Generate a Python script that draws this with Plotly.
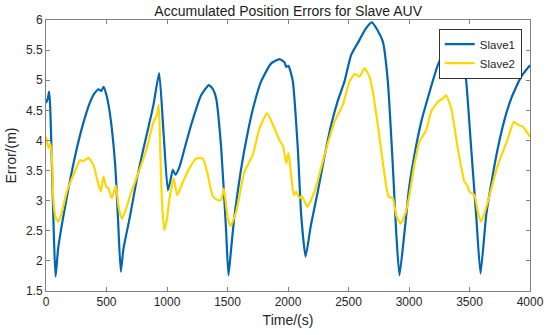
import plotly.graph_objects as go

# ---- data ----
t_slave1 = [0, 15, 26, 35, 79, 100, 145, 200, 255, 310, 365, 400, 434, 456, 475, 500, 530, 572, 595, 618,
            640, 696, 750, 806, 850, 888, 935, 971, 1007, 1030, 1048, 1070, 1103, 1150, 1200, 1282, 1346, 1380,
            1406, 1448, 1489, 1508, 1530, 1558, 1610, 1668, 1720, 1778, 1861, 1930, 1970, 1985, 2004, 2020, 2040,
            2081, 2109, 2145, 2190, 2246, 2300, 2357, 2410, 2467, 2522, 2591, 2640, 2693, 2740, 2784, 2825, 2866,
            2894, 2921, 2963, 3000, 3045, 3100, 3155, 3238, 3300, 3360, 3420, 3445, 3473, 3514, 3555, 3591, 3638,
            3690, 3734, 3790, 3845, 3927, 4000]
slave1 = [4.62, 4.70, 4.81, 4.55, 1.74, 2.20, 2.76, 3.35, 3.87, 4.30, 4.64, 4.78, 4.85, 4.82, 4.89, 4.75, 4.42, 3.59, 2.70, 1.82,
          2.20, 2.76, 3.35, 3.87, 4.25, 4.59, 5.12, 4.14, 3.17, 3.35, 3.51, 3.43, 3.56, 3.90, 4.26, 4.75, 4.92, 4.85,
          4.70, 3.87, 2.48, 1.76, 2.20, 2.76, 3.50, 4.14, 4.60, 4.98, 5.28, 5.35, 5.30, 5.22, 5.24, 5.15, 4.98,
          3.87, 2.76, 2.07, 2.60, 3.15, 3.72, 4.26, 4.65, 4.98, 5.42, 5.67, 5.85, 5.96, 5.83, 5.64, 4.98, 3.59,
          2.48, 1.76, 2.48, 3.20, 3.76, 4.30, 4.70, 5.25, 5.50, 5.62, 5.55, 5.36, 4.98, 3.87, 2.76, 1.79, 2.76,
          3.40, 3.87, 4.35, 4.70, 5.06, 5.25]

t_slave2 = [0, 21, 35, 48, 62, 80, 103, 130, 172, 227, 282, 310, 351, 393, 420, 453, 475, 497, 517, 544, 577, 600,
            627, 660, 696, 778, 833, 888, 916, 932, 945, 957, 977, 1000, 1021, 1056, 1084, 1131, 1186, 1241, 1296,
            1337, 1379, 1420, 1448, 1470, 1503, 1525, 1572, 1640, 1709, 1764, 1828, 1888, 1930, 1960, 1985, 2004,
            2026, 2048, 2068, 2095, 2114, 2159, 2219, 2302, 2384, 2453, 2508, 2550, 2591, 2632, 2674, 2701, 2742,
            2798, 2831, 2866, 2894, 2930, 2963, 3000, 3040, 3087, 3142, 3183, 3238, 3280, 3307, 3349, 3403, 3459,
            3481, 3500, 3541, 3570, 3597, 3651, 3734, 3817, 3866, 3901, 3941, 4000]
slave2 = [4.06, 3.87, 3.95, 3.76, 2.98, 2.72, 2.65, 2.80, 3.15, 3.43, 3.67, 3.66, 3.71, 3.59, 3.37, 3.15, 3.40, 3.23, 3.20, 3.04, 3.25, 2.90,
          2.70, 2.85, 3.09, 3.54, 3.87, 4.31, 4.42, 4.59, 3.80, 3.04, 2.51, 2.70, 3.04, 3.37, 3.09, 3.31, 3.54, 3.70, 3.70,
          3.43, 3.07, 3.01, 3.01, 3.20, 2.70, 2.58, 2.82, 3.48, 3.76, 4.20, 4.45, 4.20, 4.00, 3.90, 3.62, 3.79,
          3.43, 3.09, 3.15, 3.04, 3.08, 2.90, 3.15, 3.76, 4.31, 4.59, 4.98, 5.10, 5.06, 5.20, 5.06, 4.81, 4.26,
          3.43, 3.07, 3.04, 2.76, 2.62, 2.75, 3.05, 3.55, 3.98, 4.17, 4.48, 4.64, 4.70, 4.75, 4.53, 3.87, 3.31,
          3.26, 3.15, 3.09, 2.80, 2.65, 2.98, 3.59, 4.03, 4.31, 4.26, 4.23, 4.06]

series_names = ["Slave1", "Slave2"]
title_text = "Accumulated Position Errors for Slave AUV"
x_label = "Time/(s)"
y_label = "Error/(m)"
x_ticks = [0, 500, 1000, 1500, 2000, 2500, 3000, 3500, 4000]
y_ticks = [1.5, 2, 2.5, 3, 3.5, 4, 4.5, 5, 5.5, 6]

FONT = "Liberation Sans, Arial, sans-serif"
AXC = "#808080"

fig = go.Figure()
fig.add_trace(go.Scatter(x=t_slave1, y=slave1, mode="lines", name=series_names[0],
                         line=dict(color="#0066B3", width=2.2, shape="spline", smoothing=0.5)))
fig.add_trace(go.Scatter(x=t_slave2, y=slave2, mode="lines", name=series_names[1],
                         line=dict(color="#FFD700", width=2.2, shape="spline", smoothing=0.5)))

fig.update_layout(
    width=550, height=335,
    margin=dict(l=46, r=20, t=20, b=44),
    paper_bgcolor="white", plot_bgcolor="white",
    font=dict(family=FONT, size=12, color="#262626"),
    title=dict(text=title_text, x=0.524, xanchor="center", y=0.967, yanchor="middle",
               font=dict(family=FONT, size=14, color="#1a1a1a")),
    showlegend=True,
    legend=dict(x=0.983, xanchor="right", y=0.968, yanchor="top",
                bgcolor="white", bordercolor="#333", borderwidth=1,
                font=dict(family=FONT, size=11.5, color="#262626"),
                tracegroupgap=0, itemwidth=30),
)
fig.update_xaxes(range=[0, 4000], tickvals=x_ticks, ticktext=[str(v) for v in x_ticks],
                 ticks="inside", ticklen=4, tickcolor=AXC, showgrid=False, zeroline=False,
                 showline=True, linecolor=AXC, linewidth=1, mirror="ticks", automargin=False,
                 title=dict(text=x_label, standoff=6, font=dict(size=14)),
                 tickfont=dict(size=12, color="#262626"))
fig.update_yaxes(range=[1.5, 6], tickvals=y_ticks, ticktext=[f"{v:g}" for v in y_ticks],
                 ticks="inside", ticklen=4, tickcolor=AXC, showgrid=False, zeroline=False,
                 showline=True, linecolor=AXC, linewidth=1, mirror="ticks", automargin=False,
                 title=dict(text=y_label, standoff=6, font=dict(size=14)),
                 tickfont=dict(size=12, color="#262626"))

fig.write_html("out.html", config={"displayModeBar": False},
               post_script="document.body.style.margin='0px';")
